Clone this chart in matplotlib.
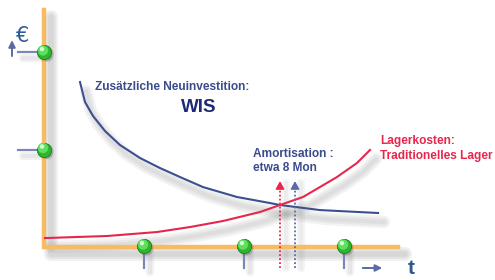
import matplotlib
matplotlib.use("Agg")
import matplotlib.pyplot as plt
import matplotlib.transforms as mtrans
import numpy as np

# ---- data (arbitrary units: x = time, y = Euro) ----
x_ticks = [1, 2, 3]
y_ticks = [1, 2]

wis_x = [0.36, 0.41, 0.49, 0.61, 0.76, 0.96, 1.16, 1.36, 1.59, 1.93, 2.26, 2.36, 2.76, 3.34]
wis_y = [1.692, 1.487, 1.344, 1.190, 1.046, 0.913, 0.810, 0.718, 0.615, 0.513, 0.451, 0.431, 0.379, 0.349]

lager_x = [0.01, 0.63, 1.13, 1.46, 1.79, 2.16, 2.36, 2.59, 2.93, 3.13, 3.26]
lager_y = [0.092, 0.113, 0.154, 0.205, 0.267, 0.359, 0.431, 0.513, 0.718, 0.862, 0.995]

amort_red_x = 2.36
amort_blue_x = 2.51

fig = plt.figure(figsize=(4.95, 2.8), dpi=100)
ax = fig.add_axes([0, 0, 1, 1])
ax.set_xlim(-0.44, 4.51)
ax.set_ylim(-0.338, 2.533)
ax.axis("off")

def shifted(dx, dy):
    return mtrans.offset_copy(ax.transData, fig=fig, x=dx, y=dy, units="dots")

def shadow_line(xs, ys, dx, dy, widths=(9, 6, 3), alpha=0.07):
    for w in widths:
        ax.plot(xs, ys, color="#606060", lw=w, alpha=alpha,
                transform=shifted(dx, dy), solid_capstyle="round",
                solid_joinstyle="round", zorder=1)

orange = "#f7bb63"
slate = "#7a88b8"
blue_curve = "#3d4f8f"
red_curve = "#e8264c"

# axes (orange) with shadow
ax_x = [0, 0, 3.54]
ax_y = [2.43, 0, 0]
shadow_line(ax_x, ax_y, 7, -7, widths=(10, 7, 4), alpha=0.09)
ax.plot(ax_x, ax_y, color=orange, lw=3.2, zorder=3, solid_joinstyle="miter")

# ticks
for xt in x_ticks:
    ax.plot([xt, xt], [-0.03, -0.21], color=slate, lw=1.6, zorder=2)
    shadow_line([xt, xt], [-0.03, -0.21], 6, -4, widths=(6, 3), alpha=0.08)
for yt in y_ticks:
    ax.plot([-0.26, 0], [yt, yt], color=slate, lw=1.6, zorder=2)
    shadow_line([-0.26, 0], [yt, yt], 5, -6, widths=(6, 3), alpha=0.08)

# curves with shadows
shadow_line(wis_x, wis_y, 6, -9)
shadow_line(lager_x, lager_y, 6, -9)
ax.plot(wis_x, wis_y, color=blue_curve, lw=1.5, zorder=4, solid_joinstyle="round")
ax.plot(lager_x, lager_y, color=red_curve, lw=1.5, zorder=4, solid_joinstyle="round")

# amortisation dotted arrows
for xv, col in [(amort_red_x, red_curve), (amort_blue_x, "#5a6aa8")]:
    shadow_line([xv, xv], [-0.22, 0.66], 6, 0, widths=(6, 3), alpha=0.06)
    ax.plot([xv, xv], [-0.22, 0.66], color=col, lw=1.3, ls=(0, (1, 1.2)), zorder=5)
    ax.annotate("", xy=(xv, 0.705), xytext=(xv, 0.6),
                arrowprops=dict(arrowstyle="-|>,head_length=0.45,head_width=0.25",
                                color=col, lw=1.2), zorder=5)

# green balls
def ball(x, y):
    ax.scatter([x], [y], s=120, color="#3a3a3a", alpha=0.25, zorder=6,
               transform=shifted(2, -2), edgecolors="none")
    ax.scatter([x], [y], s=105, color="#2fb52f", zorder=7, edgecolors="#1e7a1e",
               linewidths=0.6)
    ax.scatter([x], [y], s=55, color="#5ee05e", zorder=8, edgecolors="none",
               transform=shifted(-1, 1.5))
    ax.scatter([x], [y], s=10, color="#d8ffd8", zorder=9, edgecolors="none",
               transform=shifted(-2, 3))

for xt in x_ticks:
    ball(xt, 0.01)
for yt in y_ticks:
    ball(0.0, yt)

# axis arrows and labels
ax.annotate("", xy=(-0.32, 2.15), xytext=(-0.32, 1.93),
            arrowprops=dict(arrowstyle="-|>,head_length=0.4,head_width=0.2",
                            color="#5a6aa8", lw=1.4))
ax.annotate("", xy=(3.41, -0.215), xytext=(3.16, -0.215),
            arrowprops=dict(arrowstyle="-|>,head_length=0.4,head_width=0.2",
                            color="#5a6aa8", lw=1.4))
ax.text(-0.215, 2.16, "€", color="#2f5d9c", fontsize=15, ha="center", va="center",
        family="DejaVu Sans")
ax.text(3.67, -0.225, "t", color="#2c5a8c", fontsize=15, ha="center", va="center",
        fontweight="bold", family="Liberation Sans")

fam = ["Liberation Sans", "DejaVu Sans"]
fs = 8.6
ax.text(0.51, 1.64, "Zusätzliche Neuinvestition:", color="#3b4c8c", fontsize=fs,
        fontweight="bold", family=fam, ha="left", va="center")
ax.text(1.55, 1.43, "WIS", color="#1c2a78", fontsize=13.5, fontweight="bold",
        family=fam, ha="center", va="center")
ax.text(2.09, 0.955, "Amortisation :", color="#3b4c8c", fontsize=fs,
        fontweight="bold", family=fam, ha="left", va="center")
ax.text(2.09, 0.81, "etwa 8 Mon", color="#3b4c8c", fontsize=fs,
        fontweight="bold", family=fam, ha="left", va="center")
ax.text(3.36, 1.09, "Lagerkosten:", color="#e8264c", fontsize=fs,
        fontweight="bold", family=fam, ha="left", va="center")
ax.text(3.36, 0.935, "Traditionelles Lager", color="#e8264c", fontsize=fs,
        fontweight="bold", family=fam, ha="left", va="center")

fig.savefig("out.png", dpi=100)
